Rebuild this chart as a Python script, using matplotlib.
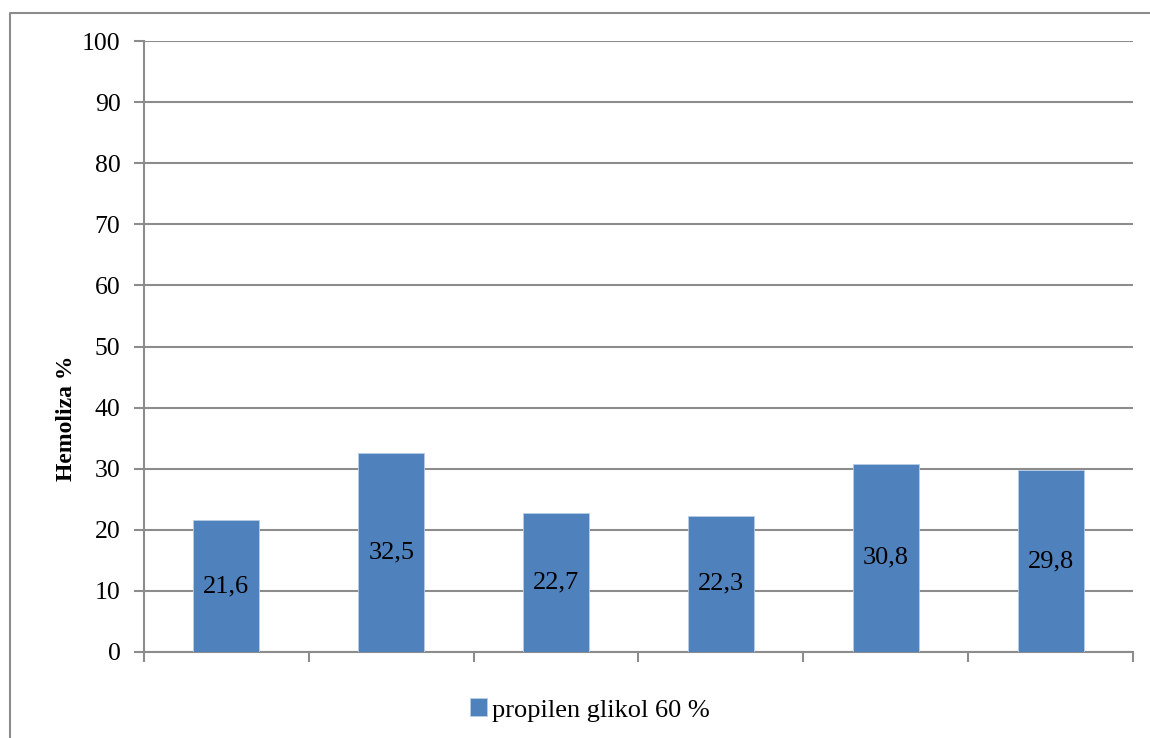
import matplotlib.pyplot as plt
from matplotlib.lines import Line2D

# values
values = [21.6, 32.5, 22.7, 22.3, 30.8, 29.8]
value_labels = ["21,6", "32,5", "22,7", "22,3", "30,8", "29,8"]
series_name = "propilen glikol 60 %"
y_ticks = [0, 10, 20, 30, 40, 50, 60, 70, 80, 90, 100]

plt.rcParams['font.family'] = ['Liberation Serif', 'DejaVu Serif']

W, H = 1150, 738
fig = plt.figure(figsize=(W / 100, H / 100), dpi=100)

# outer chart frame (only left and top edges fall inside the picture)
fx, fy = 9.5 / W, 1 - 12.5 / H
fig.add_artist(Line2D([fx, fx, 1.0], [0.0, fy, fy], transform=fig.transFigure,
                      color='#8c8c8c', linewidth=1.5))

ax = fig.add_axes([144 / W, 1 - 652 / H, (1133 - 144) / W, (652 - 41) / H])

gray = '#8c8c8c'
x = list(range(len(values)))
bars = ax.bar(x, values, width=0.4, color='#4F81BD', edgecolor='#B9CDE5',
              linewidth=0.6, label=series_name, zorder=3)

for xi, v, lab in zip(x, values, value_labels):
    ax.text(xi, v / 2, lab, ha='center', va='center', fontsize=19, zorder=4)

ax.set_xlim(-0.5, len(values) - 0.5)
ax.set_ylim(0, 100)
ax.set_yticks(y_ticks)
ax.set_yticklabels([str(t) for t in y_ticks], fontsize=18.5)
ax.set_xticks([i - 0.5 for i in range(len(values) + 1)])
ax.set_xticklabels([])
ax.tick_params(axis='both', direction='out', length=7, width=1.5, color=gray, pad=10)
ax.tick_params(axis='x', pad=2)

ax.grid(axis='y', color=gray, linewidth=1.5, zorder=0)
ax.set_axisbelow(True)
for s in ['top', 'right']:
    ax.spines[s].set_visible(False)
for s in ['left', 'bottom']:
    ax.spines[s].set_color(gray)
    ax.spines[s].set_linewidth(1.5)

fig.text(67 / W, 1 - 418 / H, "Hemoliza %", rotation=90, ha='center', va='center',
         fontsize=17, fontweight='bold')

fig.legend(handles=[bars], labels=[series_name], loc='center',
           bbox_to_anchor=(590 / W, 1 - 710 / H), frameon=False, fontsize=19,
           handlelength=0.65, handleheight=0.65, handletextpad=0.2)

fig.savefig('out.png', dpi=100)
